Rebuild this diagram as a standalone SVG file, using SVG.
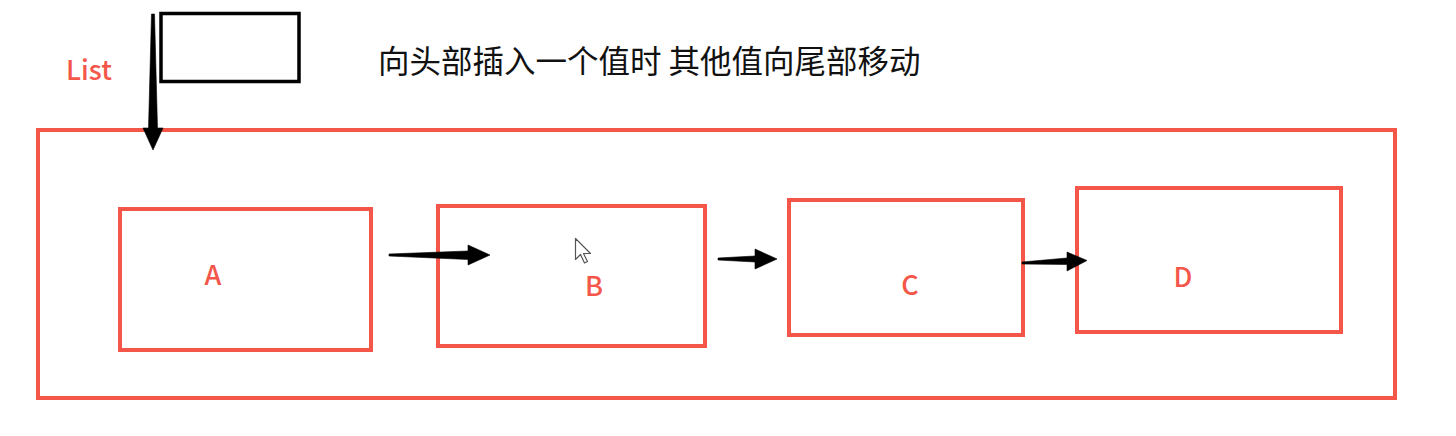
<svg xmlns="http://www.w3.org/2000/svg" width="1456" height="436" viewBox="0 0 1456 436">
  <style>
    .box { fill: none; stroke: #f4574a; stroke-width: 4; }
    .lbl { fill: #f4574a; font-family: "Noto Sans CJK SC", "Noto Sans", sans-serif; font-size: 27px; font-weight: 500; text-anchor: middle; }
    .title { fill: #111111; font-family: "Noto Sans CJK SC", "Noto Sans", sans-serif; font-size: 31.5px; }
    .arr { fill: #000000; stroke: #000000; stroke-width: 0.6; stroke-linejoin: round; }
  </style>
  <rect width="1456" height="436" fill="#ffffff"/>

  <g id="list">
    <rect class="box" x="38" y="130" width="1357" height="268"/>
    <text class="lbl" x="66" y="80" style="text-anchor:start">List</text>
  </g>

  <g id="newvalue">
    <rect x="161" y="13.5" width="138" height="68" fill="none" stroke="#000000" stroke-width="3.5"/>
  </g>

  <g id="title">
    <text class="title" x="378" y="73">向头部插入一个值时 其他值向尾部移动</text>
  </g>

  <g id="nodeA">
    <rect class="box" x="120" y="209" width="251" height="141"/>
    <text class="lbl" x="213" y="285">A</text>
  </g>
  <g id="nodeB">
    <rect class="box" x="438" y="206" width="267" height="140"/>
    <text class="lbl" x="594" y="296">B</text>
  </g>
  <g id="nodeC">
    <rect class="box" x="789" y="200" width="234" height="135"/>
    <text class="lbl" x="910" y="295">C</text>
  </g>
  <g id="nodeD">
    <rect class="box" x="1077" y="188" width="264" height="144"/>
    <text class="lbl" x="1183" y="287">D</text>
  </g>

  <g id="connectors">
    <polygon class="arr" points="151.5,14 154.5,14 157.5,128 163,128 153,150 143,128 148.5,128"/>
    <polygon class="arr" points="389,254 389,256 468,259.5 468,265 490,255 468,245 468,251"/>
    <polygon class="arr" points="718,258 718,260 755,262 755,269 777,259 755,249 755,256"/>
    <polygon class="arr" points="1022,262 1022,264 1067,264.5 1067,271 1087,260.5 1067,252 1067,258"/>
  </g>

  <g id="cursor">
    <path d="M575.5,238.5 L575.5,259.5 L580.5,254.5 L584.5,263 L587.5,261.5 L583.5,253.5 L590.5,253.5 Z" fill="#ffffff" stroke="#555555" stroke-width="1.2" stroke-linejoin="round"/>
  </g>
</svg>
